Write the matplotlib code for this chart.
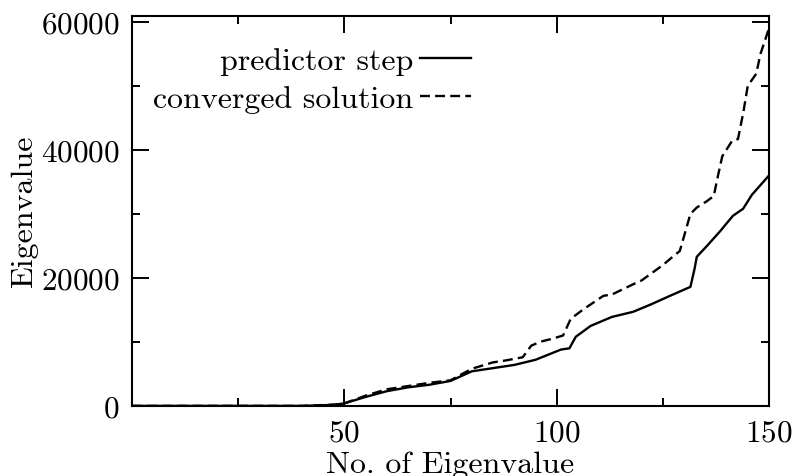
"""Predictor step vs converged solution eigenvalues."""

import matplotlib
matplotlib.use("Agg")
import matplotlib.pyplot as plt

plt.rcParams["font.family"] = ["cmr10", "DejaVu Serif"]
plt.rcParams["axes.formatter.use_mathtext"] = True

# predictor step (solid)
pred_x = [0, 20, 40, 45, 48, 50, 55, 60, 65, 70, 75, 80, 85, 90, 95, 98, 101,
          103, 104.5, 108, 113, 118, 122, 126.7, 131.5, 132.5, 133, 135.4,
          138.5, 141.5, 143.9, 146, 148, 150]
pred_y = [0, 0, 0, 100, 200, 400, 1400, 2300, 2900, 3300, 3900, 5400, 5900,
          6400, 7200, 8000, 8800, 9000, 10800, 12500, 13900, 14700, 15800,
          17200, 18600, 21500, 23300, 25000, 27300, 29700, 30800, 33000,
          34500, 36000]

# converged solution (dashed)
conv_x = [0, 40, 48, 50, 55, 60, 65, 70, 75, 80, 85, 88, 92, 94, 96, 99,
          101.5, 103.3, 106.3, 111, 113, 118, 120, 125, 127.5, 129, 131.5,
          133, 135.4, 137, 138, 139, 141.3, 142.7, 144, 145, 147, 148, 149.5,
          150]
conv_y = [0, 0, 200, 400, 1600, 2600, 3100, 3600, 4000, 5800, 6800, 7100,
          7600, 9400, 10000, 10500, 11000, 13600, 15100, 17200, 17400, 19000,
          19600, 22000, 23400, 24200, 30000, 31000, 32000, 32800, 36000,
          39000, 41400, 41700, 46000, 50000, 51900, 55000, 58000, 59000]

fig = plt.figure(figsize=(8.01, 4.77), dpi=100)
ax = fig.add_axes([0.165, 0.147, 0.795, 0.817])

ax.plot(pred_x, pred_y, color="black", lw=1.7, label="predictor step")
ax.plot(conv_x, conv_y, color="black", lw=1.7, dashes=(4.2, 2.2),
        label="converged solution")

ax.set_xlim(0, 150)
ax.set_ylim(0, 60900)
ax.set_xticks([50, 100, 150])
ax.set_xticks([25, 75, 125], minor=True)
ax.set_yticks([0, 20000, 40000, 60000])
ax.set_yticks([10000, 30000, 50000], minor=True)

ax.tick_params(which="both", direction="in", top=True, right=True,
               width=1.4, labelsize=22.5, pad=9)
ax.tick_params(which="major", length=12)
ax.tick_params(which="minor", length=6)
for spine in ax.spines.values():
    spine.set_linewidth(1.5)

ax.set_xlabel("No. of Eigenvalue", fontsize=23, labelpad=3)
ax.set_ylabel("Eigenvalue", fontsize=23, labelpad=2)

ax.legend(loc="upper left", frameon=False, markerfirst=False, fontsize=23,
          handlelength=1.6, handletextpad=0.2, labelspacing=0.3,
          borderaxespad=0.25, bbox_to_anchor=(0.0, 0.974))

fig.savefig("out.png", dpi=100)
